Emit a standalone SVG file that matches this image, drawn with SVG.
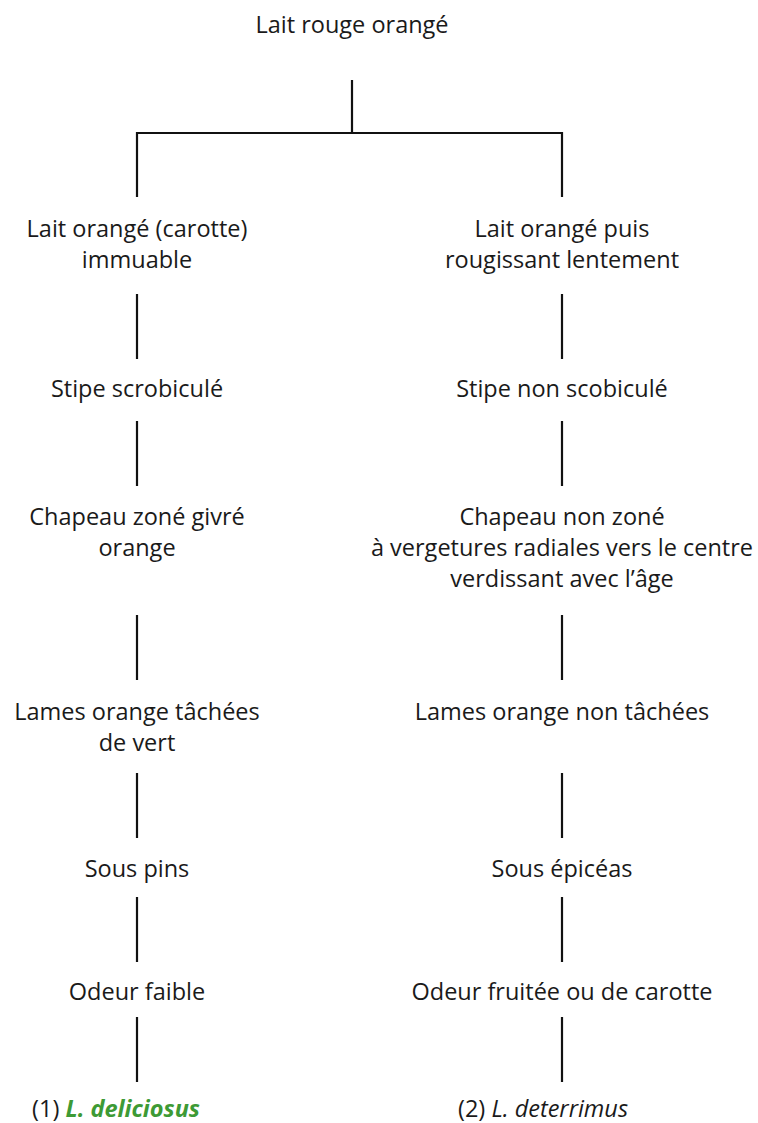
<svg xmlns="http://www.w3.org/2000/svg" width="758" height="1123" viewBox="0 0 758 1123">
<style>
text{font-family:"Open Sans","Noto Sans","Liberation Sans",sans-serif;font-size:23.5px;fill:#1a1a1a;text-anchor:middle}
.c line{stroke:#111;stroke-width:2.2}
.sp{font-style:italic}
.g{fill:#3d9a35;font-weight:bold;font-style:italic}
</style>
<rect width="758" height="1123" fill="#fff"/>
<g class="c" id="connectors">
<line x1="352" y1="80" x2="352" y2="133"/>
<line x1="136" y1="133" x2="563" y2="133"/>
<line x1="137" y1="132" x2="137" y2="197"/>
<line x1="562" y1="132" x2="562" y2="197"/>
<line x1="137" y1="294" x2="137" y2="359"/>
<line x1="562" y1="294" x2="562" y2="359"/>
<line x1="137" y1="421" x2="137" y2="486"/>
<line x1="562" y1="421" x2="562" y2="486"/>
<line x1="137" y1="615" x2="137" y2="680"/>
<line x1="562" y1="615" x2="562" y2="680"/>
<line x1="137" y1="773" x2="137" y2="838"/>
<line x1="562" y1="773" x2="562" y2="838"/>
<line x1="137" y1="897" x2="137" y2="962"/>
<line x1="562" y1="897" x2="562" y2="962"/>
<line x1="137" y1="1017" x2="137" y2="1082"/>
<line x1="562" y1="1017" x2="562" y2="1082"/>
</g>
<g id="root"><text x="352" y="33">Lait rouge orangé</text></g>
<g id="l1"><text x="137" y="237">Lait orangé (carotte)</text><text x="137" y="268">immuable</text></g>
<g id="r1"><text x="562" y="237">Lait orangé puis</text><text x="562" y="268">rougissant lentement</text></g>
<g id="l2"><text x="137" y="397">Stipe scrobiculé</text></g>
<g id="r2"><text x="562" y="397">Stipe non scobiculé</text></g>
<g id="l3"><text x="137" y="525">Chapeau zoné givré</text><text x="137" y="556">orange</text></g>
<g id="r3"><text x="562" y="525">Chapeau non zoné</text><text x="562" y="556">à vergetures radiales vers le centre</text><text x="562" y="587">verdissant avec l’âge</text></g>
<g id="l4"><text x="137" y="720">Lames orange tâchées</text><text x="137" y="751">de vert</text></g>
<g id="r4"><text x="562" y="720">Lames orange non tâchées</text></g>
<g id="l5"><text x="137" y="877">Sous pins</text></g>
<g id="r5"><text x="562" y="877">Sous épicéas</text></g>
<g id="l6"><text x="137" y="1000">Odeur faible</text></g>
<g id="r6"><text x="562" y="1000">Odeur fruitée ou de carotte</text></g>
<g id="l7"><text x="116" y="1117">(1) <tspan class="g">L. deliciosus</tspan></text></g>
<g id="r7"><text x="543" y="1117">(2) <tspan class="sp">L. deterrimus</tspan></text></g>
</svg>
